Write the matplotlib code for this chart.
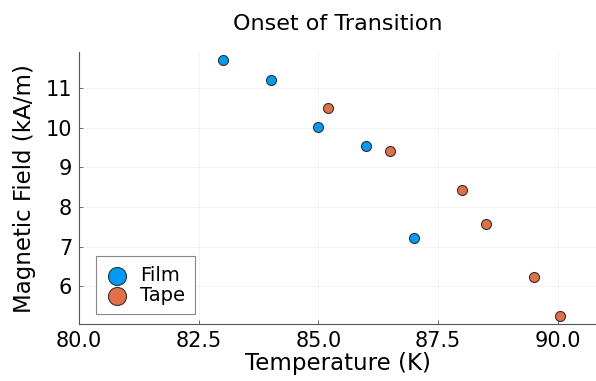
import matplotlib
matplotlib.use("Agg")
import matplotlib.pyplot as plt

# data
film_T = [83.0, 84.0, 85.0, 86.0, 87.0]
film_H = [11.71, 11.19, 10.02, 9.54, 7.21]
tape_T = [85.2, 86.5, 88.0, 88.5, 89.5, 90.04]
tape_H = [10.5, 9.4, 8.44, 7.58, 6.24, 5.25]

xticks = [80.0, 82.5, 85.0, 87.5, 90.0]
yticks = [6, 7, 8, 9, 10, 11]

BLUE = "#009AFA"
ORANGE = "#E36F47"

fig = plt.figure(figsize=(5.96, 3.81), dpi=100)
ax = fig.add_axes([0.1326, 0.1496, 0.8674, 0.7131])

kw = dict(s=52, edgecolors="#333333", linewidths=0.8, zorder=3)
ax.scatter(film_T, film_H, c=BLUE, label="Film", **kw)
ax.scatter(tape_T, tape_H, c=ORANGE, label="Tape", **kw)

ax.set_xlim(80.0, 90.8)
ax.set_ylim(5.05, 11.9)
ax.set_xticks(xticks)
ax.set_xticklabels([f"{t:.1f}" for t in xticks])
ax.set_yticks(yticks)

ax.grid(True, color="black", alpha=0.05, linewidth=0.6)
ax.set_axisbelow(True)
for s in ("top", "right"):
    ax.spines[s].set_visible(False)
for s in ("left", "bottom"):
    ax.spines[s].set_color("#555555")
    ax.spines[s].set_linewidth(0.8)
ax.tick_params(direction="in", length=3, width=0.6, color="#555555",
               labelsize=15, pad=5)

ax.set_title("Onset of Transition", fontsize=16, pad=16)
ax.set_xlabel("Temperature (K)", fontsize=16.5, labelpad=1)
ax.set_ylabel("Magnetic Field (kA/m)", fontsize=16.5, labelpad=7)

leg = ax.legend(loc="lower left", bbox_to_anchor=(0.033, 0.035), fontsize=14,
                markerscale=1.8, handletextpad=0.55, borderpad=0.5,
                borderaxespad=0, labelspacing=0.05, fancybox=False,
                framealpha=1, edgecolor="#888888", handlelength=1.2)
leg.get_frame().set_linewidth(0.8)

plt.savefig("out.png", dpi=100)
